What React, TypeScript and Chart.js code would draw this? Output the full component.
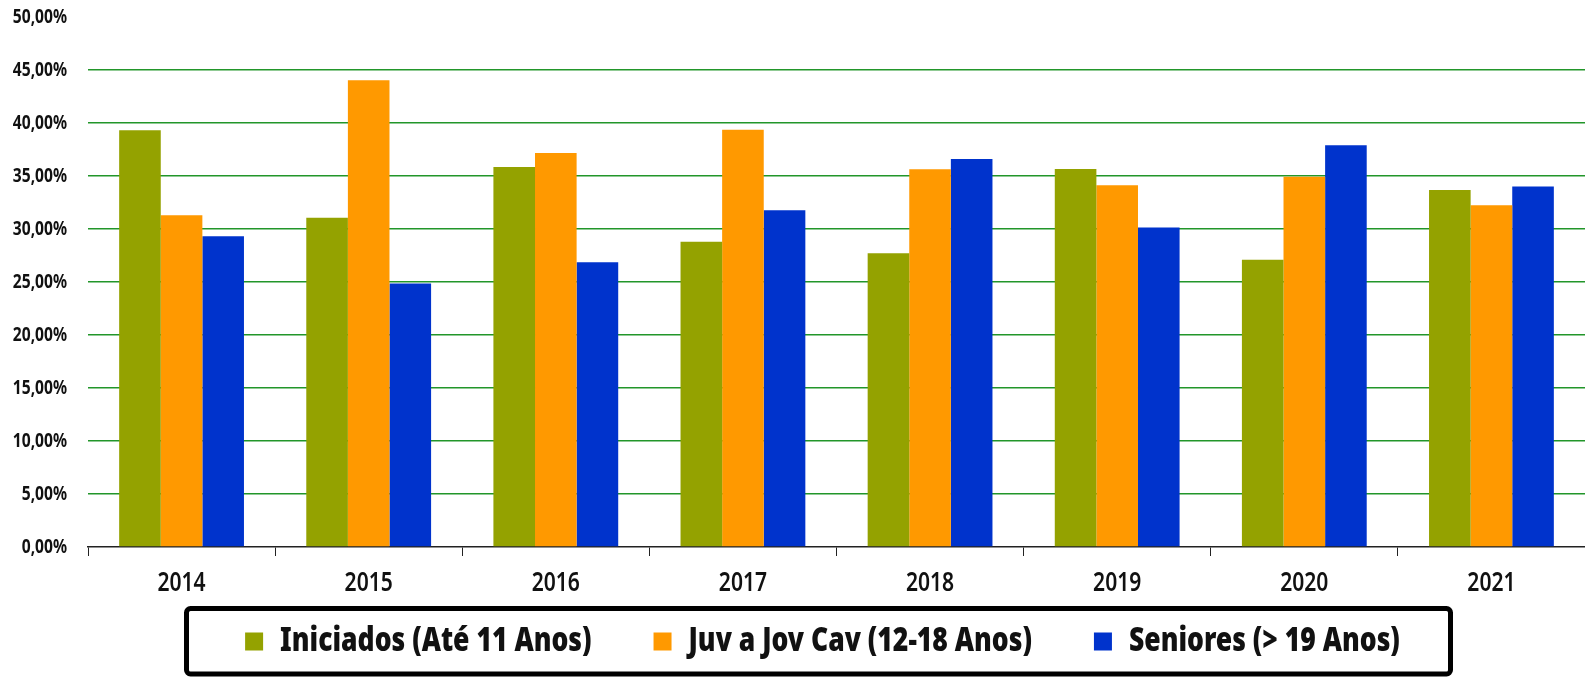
import React, { useEffect, useRef } from 'react';
import { Chart, registerables } from 'chart.js';

Chart.register(...registerables);

const categories = ['2014', '2015', '2016', '2017', '2018', '2019', '2020', '2021'];
const iniciados = [39.32, 31.05, 35.86, 28.79, 27.72, 35.67, 27.09, 33.69];
const juvJov = [31.3, 44.03, 37.18, 39.37, 35.64, 34.13, 34.94, 32.25];
const seniores = [29.32, 24.85, 26.87, 31.77, 36.61, 30.14, 37.9, 34.0];
const seriesLabels = ['Iniciados (Até 11 Anos)', 'Juv a Jov Cav (12-18 Anos)', 'Seniores (> 19 Anos)'];
const seriesColors = ['#94A200', '#FF9900', '#0033CC'];
const yMin = 0;
const yMax = 50;
const yStep = 5;

const FONT = "'Noto Sans', 'DejaVu Sans', sans-serif";
// horizontal compression used to imitate the condensed typeface of the original
const TEXT_SQUEEZE = 0.78;

function condenseText(ctx: any, s: number) {
  const proto = CanvasRenderingContext2D.prototype as any;
  ctx.fillText = function (text: string, x: number, y: number, maxWidth?: number) {
    this.save();
    this.scale(s, 1);
    if (maxWidth === undefined || maxWidth === null) proto.fillText.call(this, text, x / s, y);
    else proto.fillText.call(this, text, x / s, y, maxWidth / s);
    this.restore();
  };
  ctx.measureText = function (text: string) {
    const m = proto.measureText.call(this, text);
    return {
      width: m.width * s,
      actualBoundingBoxLeft: m.actualBoundingBoxLeft * s,
      actualBoundingBoxRight: m.actualBoundingBoxRight * s,
      actualBoundingBoxAscent: m.actualBoundingBoxAscent,
      actualBoundingBoxDescent: m.actualBoundingBoxDescent,
      fontBoundingBoxAscent: m.fontBoundingBoxAscent,
      fontBoundingBoxDescent: m.fontBoundingBoxDescent,
    };
  };
}

const LEGEND_PAD = 62;
const LEGEND_FONT = 34;
// x-axis box height and legend box height chosen so that the plot bottom and legend row sit where the original has them
const X_AXIS_BOX = 77 - LEGEND_PAD + (35 - LEGEND_FONT) / 2;
const LEGEND_BOX = 679 - 547 - X_AXIS_BOX;

const legendFrame = {
  id: 'legendFrame',
  beforeLayout(chart: any) {
    const lg = chart.legend;
    if (lg && !lg.__patched) {
      const orig = lg.fit.bind(lg);
      lg.fit = function () {
        orig();
        this.height = LEGEND_BOX;
      };
      lg.__patched = true;
    }
  },
  afterDraw(chart: any) {
    const lg = chart.legend;
    const hb = lg && lg.legendHitBoxes;
    if (!hb || !hb.length) return;
    const first = hb[0];
    const last = hb[hb.length - 1];
    const cy = first.top + first.height / 2;
    const mid = (first.left + last.left + last.width) / 2;
    const x0 = mid - 636;
    const x1 = mid + 628;
    const y0 = cy - 33;
    const y1 = cy + 32.5;
    const ctx = chart.ctx;
    ctx.save();
    ctx.lineWidth = 5;
    ctx.strokeStyle = '#000';
    ctx.beginPath();
    ctx.roundRect(x0, y0, x1 - x0, y1 - y0, 4);
    ctx.stroke();
    ctx.restore();
  },
};

const noLabelClip = (scale: any) => {
  scale._computeLabelArea = () => undefined;
};

export default function App() {
  const ref = useRef<HTMLCanvasElement | null>(null);
  useEffect(() => {
    if (!ref.current) return;
    const c2d = ref.current.getContext('2d');
    condenseText(c2d, TEXT_SQUEEZE);
    const chart = new Chart(ref.current, {
      type: 'bar',
      data: {
        labels: categories,
        datasets: [iniciados, juvJov, seniores].map((d, i) => ({
          label: seriesLabels[i],
          data: d,
          backgroundColor: seriesColors[i],
          borderWidth: 0,
          barPercentage: 1,
          categoryPercentage: 0.667,
        })),
      },
      options: {
        animation: false,
        responsive: true,
        maintainAspectRatio: false,
        layout: { padding: { top: 17, left: 60, right: 0, bottom: 0 } },
        plugins: {
          tooltip: { enabled: false },
          legend: {
            position: 'bottom',
            labels: {
              boxWidth: 18,
              boxHeight: 18,
              padding: LEGEND_PAD,
              color: '#111',
              font: { family: FONT, size: LEGEND_FONT, weight: '900' },
            },
          },
        },
        scales: {
          x: {
            afterFit: (scale: any) => {
              scale.height = X_AXIS_BOX;
              noLabelClip(scale);
            },
            grid: {
              display: true,
              drawOnChartArea: false,
              drawTicks: true,
              tickLength: 9,
              color: '#222',
              lineWidth: 1,
              offset: true,
            },
            border: { display: true, color: '#222', width: 1.5 },
            ticks: {
              padding: 11,
              color: '#111',
              font: { family: FONT, size: 27, weight: '600' },
            },
          },
          y: {
            min: yMin,
            max: yMax,
            afterFit: (scale: any) => {
              scale.width = 28;
              scale.paddingTop = 0;
              scale.paddingBottom = 0;
              noLabelClip(scale);
            },
            grid: {
              drawTicks: false,
              lineWidth: 1.6,
              color: (c: any) =>
                c.tick && (c.tick.value === yMin || c.tick.value === yMax) ? 'rgba(0,0,0,0)' : '#22962a',
            },
            border: { display: false },
            ticks: {
              stepSize: yStep,
              padding: 21,
              color: '#111',
              font: { family: FONT, size: 20, weight: 'bold' },
              callback: (v: any) => Number(v).toFixed(2).replace('.', ',') + '%',
            },
          },
        },
      },
      plugins: [legendFrame],
    } as any);
    return () => chart.destroy();
  }, []);
  return (
    <div style={{ position: 'absolute', left: 0, top: 0, width: 1585, height: 679 }}>
      <canvas ref={ref} />
    </div>
  );
}
